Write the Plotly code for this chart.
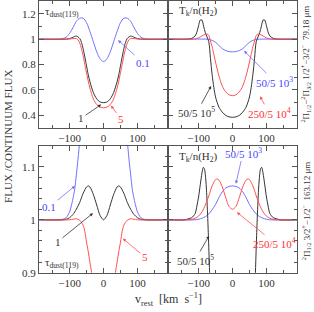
import plotly.graph_objects as go

# ---------------- data ----------------
# Top-left: 79.18 um, tau_dust variations
tl_blue_v = [-190,-130,-120,-110,-100,-90,-80,-70,-60,-50,-40,-30,-20,-10,0,10,20,30,40,50,60,70,80,90,100,110,120,130,190]
tl_blue_f = [1.0,1.0,1.004,1.015,1.045,1.09,1.14,1.165,1.165,1.13,1.06,0.98,0.90,0.845,0.823,0.845,0.90,0.98,1.06,1.13,1.165,1.165,1.14,1.09,1.045,1.015,1.004,1.0,1.0]
tl_black_v = [-190,-110,-100,-90,-80,-70,-65,-60,-55,-50,-45,-40,-30,-20,-10,0,10,20,30,40,45,50,55,60,65,70,80,90,100,110,190]
tl_black_f = [1.0,1.0,1.004,1.015,1.024,1.005,0.975,0.925,0.86,0.79,0.72,0.665,0.58,0.53,0.505,0.5,0.505,0.53,0.58,0.665,0.72,0.79,0.86,0.925,0.975,1.005,1.024,1.015,1.004,1.0,1.0]
tl_red_v = [-190,-110,-100,-90,-80,-75,-70,-65,-60,-55,-50,-45,-40,-30,-20,-10,0,10,20,30,40,45,50,55,60,65,70,75,80,90,100,110,190]
tl_red_f = [1.0,1.0,1.001,1.004,1.005,0.995,0.97,0.925,0.87,0.80,0.735,0.67,0.615,0.53,0.485,0.465,0.46,0.465,0.485,0.53,0.615,0.67,0.735,0.80,0.87,0.925,0.97,0.995,1.005,1.004,1.001,1.0,1.0]

# Top-right: 79.18 um, Tk/n(H2) variations
tr_blue_v = [-190,-80,-70,-60,-50,-40,-30,-20,-10,0,10,20,30,40,50,60,70,80,190]
tr_blue_f = [1.0,1.0,0.998,0.99,0.975,0.95,0.925,0.91,0.902,0.9,0.902,0.91,0.925,0.95,0.975,0.99,0.998,1.0,1.0]
tr_black_v = [-190,-130,-120,-110,-105,-100,-95,-90,-85,-80,-70,-65,-60,-55,-50,-40,-30,-20,-10,0,10,20,30,40,50,55,60,65,70,80,85,90,95,100,105,110,120,130,190]
tr_black_f = [1.0,1.0,1.006,1.025,1.055,1.105,1.15,1.15,1.10,1.05,0.98,0.85,0.72,0.62,0.545,0.465,0.425,0.40,0.388,0.385,0.388,0.40,0.425,0.465,0.545,0.62,0.72,0.85,0.98,1.05,1.10,1.15,1.15,1.105,1.055,1.025,1.006,1.0,1.0]
tr_red_v = [-190,-115,-110,-100,-90,-80,-75,-70,-65,-60,-55,-50,-40,-30,-20,-10,0,10,20,30,40,50,55,60,65,70,75,80,90,100,110,115,190]
tr_red_f = [1.0,1.0,1.002,1.01,1.025,1.038,1.04,1.03,0.985,0.94,0.88,0.82,0.71,0.63,0.585,0.562,0.555,0.562,0.585,0.63,0.71,0.82,0.88,0.94,0.985,1.03,1.04,1.038,1.025,1.01,1.002,1.0,1.0]

# Bottom-left: 163.12 um, tau_dust variations
bl_blue_v = [-190,-130,-120,-110,-100,-95,-90,-85,-80,-75,-70,-65,-60,-50,0,50,60,65,70,75,80,85,90,95,100,110,120,130,190]
bl_blue_f = [1.0,1.0,1.001,1.004,1.015,1.026,1.04,1.057,1.085,1.115,1.15,1.19,1.24,1.3,1.3,1.3,1.24,1.19,1.15,1.115,1.085,1.057,1.04,1.026,1.015,1.004,1.001,1.0,1.0]
bl_black_v = [-190,-120,-110,-100,-90,-80,-70,-60,-50,-45,-40,-30,-20,-10,0,10,20,30,40,45,50,60,70,80,90,100,110,120,190]
bl_black_f = [1.0,1.0,1.001,1.004,1.01,1.02,1.033,1.05,1.062,1.064,1.062,1.048,1.028,1.008,1.0,1.008,1.028,1.048,1.062,1.064,1.062,1.05,1.033,1.02,1.01,1.004,1.001,1.0,1.0]
bl_red_v = [-190,-100,-90,-80,-70,-60,-55,-50,-45,-40,-35,-30,-20,0,20,30,35,40,45,50,55,60,70,80,90,100,190]
bl_red_f = [1.0,1.0,1.001,1.002,0.999,0.99,0.978,0.958,0.94,0.92,0.9,0.875,0.83,0.8,0.83,0.875,0.9,0.92,0.94,0.958,0.978,0.99,0.999,1.002,1.001,1.0,1.0]

# Bottom-right: 163.12 um, Tk/n(H2) variations
br_blue_v = [-190,-110,-100,-90,-80,-70,-60,-50,-40,-30,-20,-10,0,10,20,30,40,50,60,70,80,90,100,110,190]
br_blue_f = [1.0,1.0,1.001,1.003,1.006,1.011,1.019,1.029,1.042,1.053,1.06,1.063,1.064,1.063,1.06,1.053,1.042,1.029,1.019,1.011,1.006,1.003,1.001,1.0,1.0]
br_black_v = [-190,-140,-130,-120,-110,-105,-100,-95,-90,-86,-83,-80,-77,-74,-71,-68,-65,-60,-50,-30,0,30,50,60,65,68,71,74,77,80,83,86,90,95,100,105,110,120,130,140,190]
br_black_f = [1.0,1.0,1.002,1.004,1.012,1.026,1.043,1.066,1.088,1.099,1.097,1.085,1.06,1.02,0.97,0.91,0.86,0.79,0.68,0.55,0.5,0.55,0.68,0.79,0.86,0.91,0.97,1.02,1.06,1.085,1.097,1.099,1.088,1.066,1.043,1.026,1.012,1.004,1.002,1.0,1.0]
br_red_v = [-190,-130,-120,-110,-100,-90,-80,-70,-60,-50,-45,-40,-30,-20,-10,0,10,20,30,40,45,50,60,70,80,90,100,110,120,130,190]
br_red_f = [1.0,1.0,1.001,1.003,1.007,1.015,1.028,1.045,1.064,1.076,1.077,1.075,1.062,1.042,1.025,1.02,1.025,1.042,1.062,1.075,1.077,1.076,1.064,1.045,1.028,1.015,1.007,1.003,1.001,1.0,1.0]

x_tick_vals = [-100, 0, 100]
x_tick_text = ["\u2212100", "0", "100"]
top_y_vals = [0.4, 0.6, 0.8, 1.0, 1.2]
top_y_text = ["0.4", "0.6", "0.8", "1", "1.2"]
bot_y_vals = [0.9, 1.0, 1.1]
bot_y_text = ["0.9", "1", "1.1"]

BLUE = "#7070ff"
RED = "#ff5050"
BLACK = "#333333"
BLUE_T = "#4848ff"
RED_T = "#ff3030"
FONT = "Liberation Serif"

fig = go.Figure()

panels = [
    ("x", "y", tl_blue_v, tl_blue_f, tl_black_v, tl_black_f, tl_red_v, tl_red_f),
    ("x2", "y2", tr_blue_v, tr_blue_f, tr_black_v, tr_black_f, tr_red_v, tr_red_f),
    ("x3", "y3", bl_blue_v, bl_blue_f, bl_black_v, bl_black_f, bl_red_v, bl_red_f),
    ("x4", "y4", br_blue_v, br_blue_f, br_black_v, br_black_f, br_red_v, br_red_f),
]
for xa, ya, bv, bf, kv, kf, rv, rf in panels:
    for v, f, c in ((bv, bf, BLUE), (kv, kf, BLACK), (rv, rf, RED)):
        fig.add_trace(go.Scatter(x=v, y=f, xaxis=xa, yaxis=ya, mode="lines",
                                 line=dict(color=c, width=1, shape="spline", smoothing=0.8),
                                 showlegend=False, hoverinfo="skip"))

xl, xm, xr = 39/314, 168/314, 297/314
ytop = [182/312, 1.0]
ybot = [34/312, 164/312]

def xax(domain, anchor):
    return dict(domain=domain, anchor=anchor, range=[-190, 190], tickvals=x_tick_vals, ticktext=x_tick_text,
                ticks="inside", ticklen=5, tickcolor="#555", showline=True, linecolor="#555", linewidth=1,
                mirror="ticks", showgrid=False, zeroline=False,
                minor=dict(ticks="inside", dtick=50, tick0=0, ticklen=3, tickcolor="#555"),
                tickfont=dict(family=FONT, size=11, color="#333"))

def yax(domain, anchor, rng, vals, text, minor_dt, labels):
    return dict(domain=domain, anchor=anchor, range=rng, tickvals=vals, ticktext=text,
                showticklabels=labels,
                ticks="inside", ticklen=5, tickcolor="#555", showline=True, linecolor="#555", linewidth=1,
                mirror="ticks", showgrid=False, zeroline=False,
                minor=dict(ticks="inside", dtick=minor_dt, tick0=0, ticklen=3, tickcolor="#555"),
                tickfont=dict(family=FONT, size=11, color="#333"))

fig.update_layout(
    width=314, height=312, margin=dict(l=0, r=0, t=0, b=0),
    paper_bgcolor="white", plot_bgcolor="white",
    xaxis=xax([xl, xm], "y"), xaxis2=xax([xm, xr], "y2"),
    xaxis3=xax([xl, xm], "y3"), xaxis4=xax([xm, xr], "y4"),
    yaxis=yax(ytop, "x", [0.3, 1.3], top_y_vals, top_y_text, 0.1, True),
    yaxis2=yax(ytop, "x2", [0.3, 1.3], top_y_vals, top_y_text, 0.1, False),
    yaxis3=yax(ybot, "x3", [0.9, 1.14], bot_y_vals, bot_y_text, 0.02, True),
    yaxis4=yax(ybot, "x4", [0.9, 1.14], bot_y_vals, bot_y_text, 0.02, False),
)

def lab(text, x, y, xr_, yr_, color, size=11, xanchor="center"):
    fig.add_annotation(text=text, x=x, y=y, xref=xr_, yref=yr_, showarrow=False,
                       xanchor=xanchor, yanchor="middle", font=dict(family=FONT, size=size, color=color))

def arr(text, tx, ty, hx, hy, xr_, yr_, color, tcolor):
    fig.add_annotation(text=text, x=hx, y=hy, ax=tx, ay=ty, xref=xr_, yref=yr_, axref=xr_, ayref=yr_,
                       showarrow=True, arrowhead=2, arrowsize=0.8, arrowwidth=0.8, arrowcolor=color,
                       font=dict(family=FONT, size=11, color=tcolor))

# top-left
lab("\u03c4<sub>dust(119)</sub>", -178, 1.215, "x", "y", BLACK, xanchor="left")
arr("0.1", 116, 0.815, 43, 0.992, "x", "y", BLUE, BLUE_T)
arr("1", -66, 0.377, -7, 0.485, "x", "y", BLACK, BLACK)
arr("5", 52, 0.369, 22, 0.477, "x", "y", RED, RED_T)
# top-right
lab("T<sub>k</sub>/n(H<sub>2</sub>)", -163, 1.225, "x2", "y2", BLACK, xanchor="left")
arr("50/5 10<sup>3</sup>", 125, 0.665, 34, 0.908, "x2", "y2", BLUE, BLUE_T)
arr("250/5 10<sup>4</sup>", 108, 0.42, 81, 0.55, "x2", "y2", RED, RED_T)
arr("50/5 10<sup>5</sup>", -105, 0.425, -63, 0.631, "x2", "y2", BLACK, BLACK)
# bottom-left
lab("\u03c4<sub>dust(119)</sub>", -178, 0.918, "x3", "y3", BLACK, xanchor="left")
arr("0.1", -160, 1.0237, -84, 1.064, "x3", "y3", BLUE, BLUE_T)
arr("1", -134, 0.959, -31, 1.0126, "x3", "y3", BLACK, BLACK)
arr("5", 122, 0.9296, 57, 0.9646, "x3", "y3", RED, RED_T)
# bottom-right
lab("T<sub>k</sub>/n(H<sub>2</sub>)", -163, 1.118, "x4", "y4", BLACK, xanchor="left")
arr("50/5 10<sup>3</sup>", 31, 1.127, 10, 1.068, "x4", "y4", BLUE, BLUE_T)
arr("250/5 10<sup>4</sup>", 125, 0.956, 13, 1.0145, "x4", "y4", RED, RED_T)
arr("50/5 10<sup>5</sup>", -110, 0.924, -69, 0.97, "x4", "y4", BLACK, BLACK)

# axis titles
fig.add_annotation(text="v<sub>rest</sub>  [km  s<sup>\u22121</sup>]", x=168/314, y=(312-305)/312,
                   xref="paper", yref="paper", xanchor="center", yanchor="middle",
                   showarrow=False, font=dict(family=FONT, size=12, color="#333"))
fig.add_annotation(text="FLUX /CONTINUUM FLUX", x=8/314, y=(312-139)/312, xref="paper", yref="paper",
                   xanchor="center", yanchor="middle",
                   textangle=-90, showarrow=False, font=dict(family=FONT, size=11, color="#333"))
fig.add_annotation(text="<sup>2</sup>\u03a0<sub>1/2</sub>\u2212<sup>2</sup>\u03a0<sub>3/2</sub> 1/2<sup>+</sup>\u22123/2<sup>\u2212</sup>  79.18 \u03bcm",
                   x=306/314, y=(312-65)/312, xref="paper", yref="paper", xanchor="center", yanchor="middle",
                   textangle=-90, showarrow=False, font=dict(family=FONT, size=9, color="#333"))
fig.add_annotation(text="<sup>2</sup>\u03a0<sub>1/2</sub> 3/2<sup>+</sup>\u22121/2<sup>\u2212</sup>  163.12 \u03bcm",
                   x=306/314, y=(312-215)/312, xref="paper", yref="paper", xanchor="center", yanchor="middle",
                   textangle=-90, showarrow=False, font=dict(family=FONT, size=9, color="#333"))

fig.write_html("out.html", config={"displayModeBar": False},
               post_script="document.body.style.margin='0';")
